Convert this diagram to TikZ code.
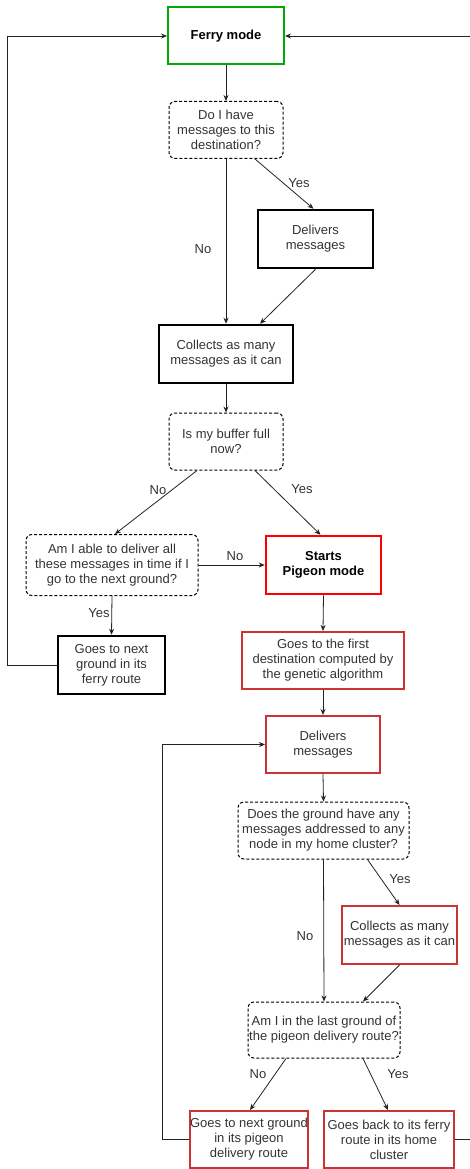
\documentclass[tikz,border=0pt]{standalone}
\usepackage{fontspec}
\setmainfont{Liberation Sans}
\usetikzlibrary{arrows.meta,calc}
\definecolor{txt}{HTML}{333333}
\definecolor{ln}{HTML}{222222}
\definecolor{grn}{HTML}{00AA00}
\definecolor{redA}{HTML}{FF0000}
\definecolor{redB}{HTML}{CC3333}
\begin{document}
\begin{tikzpicture}[x=1pt,y=-1pt,
  font=\fontsize{13}{15}\selectfont, text=txt,
  box/.style={draw, rectangle, align=center, inner sep=0pt},
  blackbox/.style={box, draw=black, line width=2.5pt},
  greenbox/.style={box, draw=grn, line width=2pt, font=\fontsize{13}{15}\selectfont\bfseries, text=black},
  startbox/.style={box, draw=redA, line width=2.5pt, font=\fontsize{13}{15}\selectfont\bfseries, text=black},
  redbox/.style={box, draw=redB, line width=2pt},
  decision/.style={draw=black, dash pattern=on 3pt off 2pt, line width=1pt, rounded corners=6pt, rectangle, align=center, inner sep=0pt},
  conn/.style={draw=ln, line width=0.8pt, -{Stealth[length=6pt,width=5pt]}},
  lbl/.style={inner sep=0pt, text=txt}
]
\useasboundingbox (0,0) rectangle (469,1169);

\node[greenbox, minimum width=116pt, minimum height=57pt] (ferry) at (226,36) {Ferry mode};
\node[decision, minimum width=114pt, minimum height=57pt] (d1) at (226,130) {Do I have\\messages to this\\destination?};
\node[blackbox, minimum width=115pt, minimum height=58pt] (deliv1) at (315.5,239) {Delivers\\messages};
\node[blackbox, minimum width=134pt, minimum height=58pt] (coll1) at (226,354) {Collects as many\\messages as it can};
\node[decision, minimum width=114pt, minimum height=57pt] (d2) at (226,441.5) {Is my buffer full\\now?};
\node[decision, minimum width=172pt, minimum height=61pt] (d3) at (112,565) {Am I able to deliver all\\these messages in time if I\\go to the next ground?};
\node[startbox, minimum width=115pt, minimum height=58pt] (starts) at (323.5,565) {Starts\\Pigeon mode};
\node[blackbox, minimum width=107pt, minimum height=58pt] (gonext) at (111.5,665) {Goes to next\\ground in its\\ferry route};
\node[redbox, minimum width=162pt, minimum height=57pt] (gofirst) at (323,660.5) {Goes to the first\\destination computed by\\the genetic algorithm};
\node[redbox, minimum width=114pt, minimum height=57pt] (deliv2) at (323,744.5) {Delivers\\messages};
\node[decision, minimum width=171pt, minimum height=57pt] (d4) at (323.5,830.5) {Does the ground have any\\messages addressed to any\\node in my home cluster?};
\node[redbox, minimum width=115pt, minimum height=58pt] (coll2) at (399.5,935) {Collects as many\\messages as it can};
\node[decision, minimum width=152pt, minimum height=56pt] (d5) at (324,1030) {Am I in the last ground of\\the pigeon delivery route?};
\node[redbox, minimum width=118pt, minimum height=57pt] (gopig) at (249,1139.5) {Goes to next ground\\in its pigeon\\delivery route};
\node[redbox, minimum width=130pt, minimum height=57pt] (goback) at (389,1139.5) {Goes back to its ferry\\route in its home\\cluster};

\coordinate (lt) at (7,36);
\coordinate (lb) at (7,665);
\coordinate (pl) at (162,744.5);
\coordinate (pb) at (162,1139.5);
\coordinate (rb) at (480,1139.5);
\coordinate (rt) at (480,36);

\draw[conn] (ferry.south) -- (d1.north);
\draw[conn] (d1.south) -- (coll1.north);
\draw[conn] ($(d1.south)+(29,0)$) -- ($(deliv1.north)+(-2,0)$);
\draw[conn] (deliv1.south) -- ($(coll1.north)+(34,0)$);
\draw[conn] (coll1.south) -- (d2.north);
\draw[conn] ($(d2.south)+(-29,0)$) -- ($(d3.north)+(3,0)$);
\draw[conn] ($(d2.south)+(29,0)$) -- ($(starts.north)+(-3,0)$);
\draw[conn] (d3.east) -- (starts.west);
\draw[conn] (d3.south) -- (gonext.north);
\draw[conn] (gonext.west) -- (lb) -- (lt) -- (ferry.west);
\draw[conn] (starts.south) -- (gofirst.north);
\draw[conn] (gofirst.south) -- (deliv2.north);
\draw[conn] (deliv2.south) -- (d4.north);
\draw[conn] (d4.south) -- (d5.north);
\draw[conn] ($(d4.south)+(44,0)$) -- (coll2.north);
\draw[conn] (coll2.south) -- ($(d5.north)+(39,0)$);
\draw[conn] ($(d5.south)+(-38,0)$) -- ($(gopig.north)+(1,0)$);
\draw[conn] ($(d5.south)+(39,0)$) -- ($(goback.north)+(-1,0)$);
\draw[conn] (gopig.west) -- (pb) -- (pl) -- (deliv2.west);
\draw[conn] (goback.east) -- (rb) -- (rt) -- (ferry.east);

\node[lbl] (l1) at (203,249) {No};
\node[lbl] (l2) at (299,183) {Yes};
\node[lbl] (l3) at (158,490) {No};
\node[lbl] (l4) at (302,489) {Yes};
\node[lbl] (l5) at (235,556) {No};
\node[lbl] (l6) at (99,613) {Yes};
\node[lbl] (l7) at (305,936) {No};
\node[lbl] (l8) at (400,879) {Yes};
\node[lbl] (l9) at (258,1074) {No};
\node[lbl] (l10) at (398,1074) {Yes};
\end{tikzpicture}
\end{document}
